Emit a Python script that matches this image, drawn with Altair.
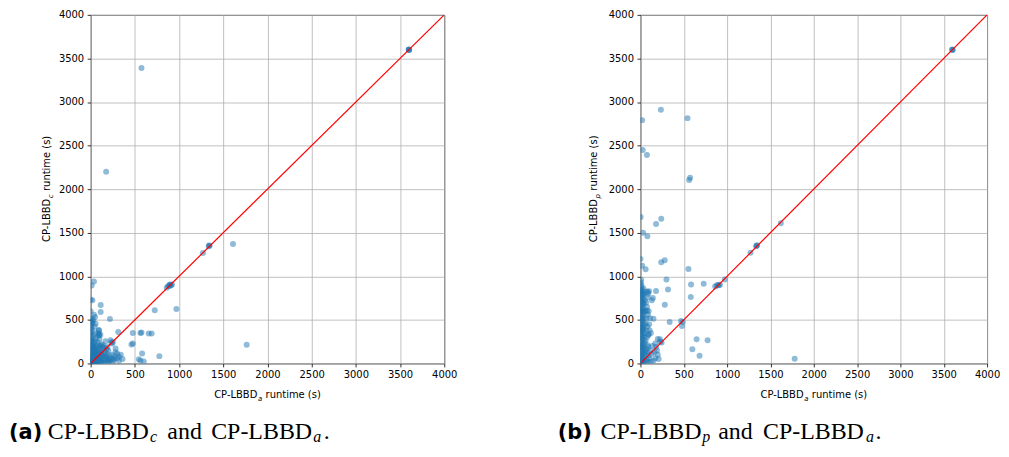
import altair as alt
import pandas as pd

ticks = [0, 500, 1000, 1500, 2000, 2500, 3000, 3500, 4000]
diag = [0, 4000]

# (CP-LBBD_a runtime, CP-LBBD_c runtime) in seconds
runs_ac = [
    (3600, 3600), (3598, 3603), (3603, 3597), (3600, 3601),
    (575, 3390), (175, 2200),
    (1340, 1355), (1346, 1350), (1336, 1346), (1270, 1268), (1610, 1370),
    (860, 870), (875, 885), (890, 900), (900, 905), (910, 898), (920, 906), (895, 890),
    (970, 625), (725, 610), (1765, 215),
    (477, 350), (563, 350), (575, 354), (657, 343), (690, 343),
    (462, 217), (477, 228),
    (582, 114), (545, 49), (563, 31), (601, 22), (777, 84),
    (113, 670), (113, 590), (218, 510), (312, 362),
    (94, 380), (96, 345), (94, 323),
    (37, 940), (11, 895), (19, 724), (37, 560), (49, 533), (19, 484), (56, 457),
    (169, 255), (225, 267), (188, 190), (244, 229), (282, 171), (300, 114),
    (319, 76), (263, 57), (206, 38), (169, 76), (233, 240), (250, 245),
    (5, 30), (8, 60), (3, 90), (10, 120), (6, 150), (12, 180), (4, 210), (9, 250),
    (3, 280), (7, 320), (5, 360), (10, 400), (4, 440), (8, 470), (2, 520), (6, 10),
    (15, 15), (20, 40), (25, 70), (18, 100), (30, 130), (22, 160), (35, 190),
    (28, 220), (14, 260), (40, 20), (45, 50), (50, 80), (38, 110), (55, 140),
    (48, 170), (60, 200), (42, 240), (65, 30), (70, 60), (75, 90), (68, 120),
    (80, 150), (72, 180), (85, 210), (90, 15), (95, 45), (100, 75), (92, 110),
    (105, 140), (98, 170), (110, 200), (115, 20), (120, 50), (125, 85), (118, 120),
    (130, 160), (135, 190), (140, 30), (150, 60), (145, 100), (160, 130), (155, 10),
    (170, 40), (180, 80), (175, 110), (190, 20), (200, 55), (210, 90), (220, 30),
    (230, 60), (250, 20), (260, 40), (240, 100), (270, 80), (280, 130), (300, 60),
    (320, 30), (340, 100), (360, 50), (25, 300), (35, 330), (15, 380), (50, 260),
    (60, 290), (80, 240), (100, 280), (110, 330), (70, 350), (90, 380), (45, 420),
    (20, 460), (120, 220), (140, 210), (160, 180), (180, 160), (200, 150), (90, 320),
    (30, 500), (55, 5), (85, 5), (130, 5), (200, 5), (0, 40), (0, 100), (0, 180),
    (0, 260), (0, 350), (0, 420), (0, 500), (0, 600), (0, 730),
    (2, 2), (5, 5), (10, 8), (3, 15), (15, 3), (20, 10), (8, 20), (12, 12), (30, 5),
    (25, 25), (40, 8), (35, 35), (50, 15), (60, 10), (45, 30), (70, 20), (18, 50),
    (28, 45), (8, 35), (12, 75), (0, 5), (0, 20), (0, 65), (0, 140), (0, 220),
    (15, 130), (25, 110), (35, 90), (45, 70), (55, 55), (65, 45), (75, 35), (20, 200),
    (30, 170), (40, 150), (60, 120), (80, 100), (100, 30), (110, 10), (120, 100),
]

# (CP-LBBD_a runtime, CP-LBBD_p runtime) in seconds
runs_ap = [
    (3600, 3600), (3603, 3598), (3597, 3602),
    (19, 2792), (236, 2911), (543, 2815), (26, 2449), (75, 2392), (573, 2130), (562, 2106),
    (2, 1680), (240, 1660), (180, 1600), (1620, 1610),
    (30, 1500), (80, 1460), (0, 1200), (20, 1120), (60, 1080),
    (240, 1160), (280, 1185), (554, 1085),
    (1270, 1270), (1340, 1352), (1346, 1356), (1336, 1346),
    (584, 906), (730, 914), (862, 884), (880, 895), (895, 900), (905, 898), (918, 903), (974, 963),
    (300, 963), (318, 849),
    (180, 831), (131, 724), (143, 750), (281, 674), (581, 762), (337, 476), (468, 488),
    (487, 476), (479, 431), (648, 278), (775, 267), (599, 163), (682, 88), (1780, 55),
    (70, 825), (85, 820), (100, 830), (150, 514), (75, 609), (120, 350), (95, 330),
    (2, 10), (10, 25), (25, 15), (40, 30), (5, 45), (15, 60), (30, 55), (50, 70), (8, 85),
    (20, 95), (35, 110), (3, 125), (45, 130), (12, 145), (28, 160), (55, 150), (6, 175),
    (18, 190), (38, 200), (4, 215), (25, 230), (48, 240), (10, 255), (32, 270), (2, 285),
    (20, 300), (42, 310), (8, 325), (28, 340), (50, 350), (5, 365), (15, 380), (35, 395),
    (3, 410), (22, 425), (45, 440), (10, 455), (30, 470), (6, 485), (18, 500), (40, 510),
    (2, 525), (25, 540), (12, 555), (35, 570), (4, 585), (20, 600), (45, 610), (8, 625),
    (28, 640), (3, 655), (15, 670), (38, 685), (6, 700), (22, 715), (50, 725), (10, 740),
    (30, 755), (4, 770), (18, 785), (40, 795), (8, 810), (25, 825), (2, 840), (15, 850),
    (35, 860), (5, 880), (12, 900), (3, 930), (8, 960),
    (0, 40), (0, 120), (0, 200), (0, 280), (0, 360), (0, 440), (0, 520), (0, 600),
    (0, 680), (0, 760), (0, 830), (14, 20), (14, 110), (14, 210), (14, 320), (14, 410),
    (14, 520), (14, 620), (14, 730), (14, 800), (30, 10), (30, 180), (30, 390), (30, 590),
    (30, 690), (30, 800),
    (60, 20), (75, 40), (90, 15), (65, 100), (80, 130), (95, 90), (70, 170), (85, 210),
    (60, 260), (75, 300), (90, 330), (65, 380), (80, 420), (60, 460), (70, 520), (85, 560),
    (60, 600), (75, 650), (65, 700), (80, 760), (90, 800), (100, 450), (110, 520),
    (105, 380), (95, 600),
    (170, 230), (200, 280), (225, 278), (244, 240), (230, 250), (180, 190), (190, 150),
    (200, 100), (210, 50), (170, 60), (150, 30), (120, 20), (100, 60), (130, 110),
    (110, 150), (90, 190), (140, 200), (160, 130),
]

BLUE = "#1f77b4"
SANS = "DejaVu Sans"
SERIF = "Liberation Serif"
DOMAIN = [0, 4000]
CAP_Y = 426
SUB_Y = 429


def txt(s, x, y, size, font=SANS, weight="normal", style="normal", angle=None):
    kw = dict(align="left", baseline="alphabetic", font=font, fontSize=size,
              fontWeight=weight, fontStyle=style, color="black")
    if angle is not None:
        kw["angle"] = angle
    return alt.Chart(alt.Data(values=[{"t": s}])).mark_text(**kw).encode(
        x=alt.value(x), y=alt.value(y), text=alt.Text("t:N"))


def panel(runs, sub, ytitle_x, cap, width):
    df = pd.DataFrame(runs, columns=["a", "o"])
    dl = pd.DataFrame({"a": diag, "o": diag})
    xenc = alt.X("a:Q", scale=alt.Scale(domain=DOMAIN, nice=False),
                 axis=alt.Axis(values=ticks, title=None, format="d", labelFlush=False))
    yenc = alt.Y("o:Q", scale=alt.Scale(domain=DOMAIN, nice=False),
                 axis=alt.Axis(values=ticks, title=None, format="d", labelFlush=False))
    pts = alt.Chart(df).mark_circle(size=36, opacity=0.5, color=BLUE, clip=True).encode(x=xenc, y=yenc)
    line = alt.Chart(dl).mark_line(color="red", strokeWidth=1.2, clip=True).encode(x=xenc, y=yenc)

    layers = [pts, line]
    # x-axis title: CP-LBBD_a runtime (s)
    xs = width / 2 - 53.5
    layers.append(txt("CP-LBBD", xs, 385, 10))
    layers.append(txt("a", xs + 43.9, 387.5, 7, style="italic"))
    layers.append(txt("runtime (s)", xs + 51.6, 385, 10))
    # y-axis title (rotated)
    sub_w = {"c": 3.85, "p": 4.44}[sub]
    y0 = 175 + (43.6 + sub_w + 58.5) / 2
    layers.append(txt("CP-LBBD", ytitle_x, y0, 10, angle=270))
    layers.append(txt(sub, ytitle_x + 2.2, y0 - 43.9, 7, style="italic", angle=270))
    layers.append(txt("runtime (s)", ytitle_x, y0 - 43.9 - sub_w - 3.4, 10, angle=270))
    # caption
    (lx, letter), (c1, s1, c2, c3, s2, dot) = cap
    layers.append(txt(letter, lx, CAP_Y, 21, weight="bold"))
    layers.append(txt("CP-LBBD", c1, CAP_Y, 24, font=SERIF))
    layers.append(txt(sub, s1, SUB_Y, 16, font=SERIF, style="italic"))
    layers.append(txt("and", c2, CAP_Y, 24, font=SERIF))
    layers.append(txt("CP-LBBD", c3, CAP_Y, 24, font=SERIF))
    layers.append(txt("a", s2, SUB_Y, 16, font=SERIF, style="italic"))
    layers.append(txt(".", dot, CAP_Y, 24, font=SERIF))
    return alt.layer(*layers).properties(width=width, height=350)


left = panel(runs_ac, "c", -40.5, ((-82, "(a)"), (-43, 59.5, 77, 121, 223.5, 234)), 355)
right = panel(runs_ap, "p", -43.3, ((-83, "(b)"), (-40, 62, 78, 123, 226.5, 236)), 348)

chart = alt.hconcat(left, right, spacing=99).properties(
    padding={"left": 0, "top": 0, "right": 0, "bottom": 0},
    background="white",
).configure_view(
    stroke="#444444", strokeWidth=1
).configure_axis(
    labelFont=SANS, labelFontSize=10, labelColor="black",
    tickColor="black", tickSize=3.5, tickWidth=0.8,
    gridColor="#b0b0b0", gridWidth=0.8, domain=False,
).configure_axisX(labelPadding=3).configure_axisY(labelPadding=3.5)

chart.save("out.html", embed_options={"renderer": "svg", "actions": False})
